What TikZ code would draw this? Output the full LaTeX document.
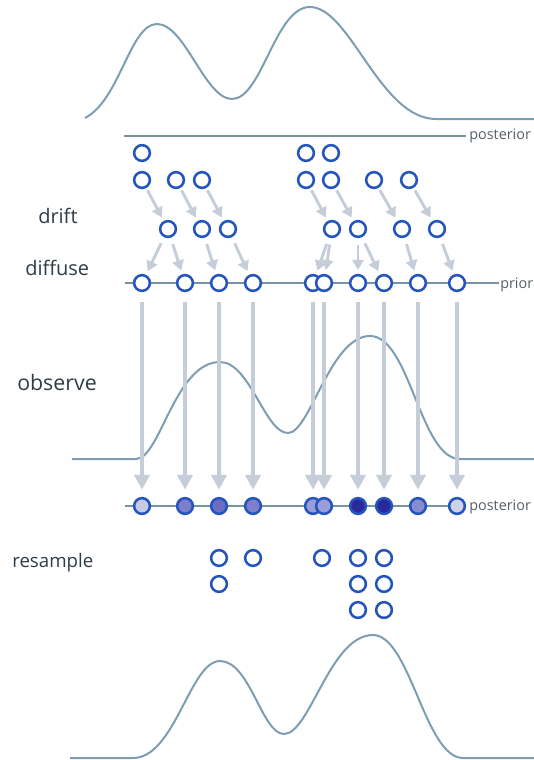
\documentclass[tikz,border=0pt]{standalone}
\usepackage{fontspec}
\setmainfont{Open Sans}
\usetikzlibrary{arrows.meta}

\definecolor{ptcl}{RGB}{36,84,190}
\definecolor{curve}{RGB}{125,158,178}
\definecolor{axis}{RGB}{118,148,166}
\definecolor{flow}{RGB}{196,205,216}
\definecolor{labeltxt}{RGB}{45,60,70}
\definecolor{axistxt}{RGB}{85,95,102}
% particle weights after the observation step
\definecolor{wa}{RGB}{200,203,230}
\definecolor{wb}{RGB}{124,127,204}
\definecolor{wc}{RGB}{106,109,192}
\definecolor{wd}{RGB}{126,128,204}
\definecolor{we}{RGB}{154,157,216}
\definecolor{wf}{RGB}{42,42,156}
\definecolor{wg}{RGB}{138,140,208}
\definecolor{wh}{RGB}{208,210,232}

\begin{document}
\begin{tikzpicture}[x=0.75pt,y=-0.75pt,
  particle/.style={circle,draw=ptcl,fill=white,line width=1.9pt,minimum size=11.8pt,inner sep=0pt},
  weighted/.style={particle,fill=#1},
  move/.style={draw=flow,line width=2.2pt,-{Triangle[width=8.5pt,length=7.5pt]},shorten <=2pt,shorten >=3pt},
  spread/.style={move,shorten <=5pt},
  weigh/.style={draw=flow,line width=2.4pt,-{Triangle[width=11.5pt,length=11pt]},shorten <=7.5pt,shorten >=5.5pt},
  density/.style={draw=curve,line width=1.5pt},
  axisline/.style={draw=axis,line width=1.4pt},
  steplabel/.style={anchor=base west,inner sep=0pt,text=labeltxt,font=\fontsize{#1}{18}\selectfont},
  steplabel/.default=15,
  axislabel/.style={anchor=base west,inner sep=0pt,text=axistxt,font=\fontsize{10.8}{13}\selectfont}]

\useasboundingbox (0,0) rectangle (534,760);

% ---- densities ----
% posterior at the previous step
\draw[density] (85,118) .. controls (120,100) and (130,24) .. (157,24)
  .. controls (185,24) and (205,99) .. (232,99)
  .. controls (262,99) and (275,7) .. (310,7)
  .. controls (350,7) and (380,119) .. (436,119) -- (534,119);
% observation likelihood
\draw[density] (72,459) -- (136,459) .. controls (160,459) and (175,362) .. (220,362)
  .. controls (250,362) and (265,433) .. (288,433)
  .. controls (310,433) and (330,336) .. (370,336)
  .. controls (410,336) and (420,459) .. (460,459) -- (534,459);
% new posterior
\draw[density] (70,758) -- (133,758) .. controls (175,758) and (190,661) .. (220,661)
  .. controls (250,661) and (262,734) .. (284,734)
  .. controls (310,734) and (330,635) .. (373,635)
  .. controls (410,635) and (425,758) .. (463,758) -- (534,758);

% ---- axes ----
\coordinate (topL) at (124,136);
\coordinate (topR) at (466,136);
\coordinate (priL) at (125,283);
\coordinate (priR) at (499,283);
\coordinate (posL) at (125,506);
\coordinate (posR) at (458,506);
\draw[axisline] (topL) -- (topR);
\draw[axisline] (priL) -- (priR);
\draw[axisline] (posL) -- (posR);
\node[axislabel] (lblTop) at (469,139) {posterior};
\node[axislabel] (lblPrior) at (500,288) {prior};
\node[axislabel] (lblPost) at (469,510) {posterior};

% ---- step labels ----
\node[steplabel] (lblDrift) at (38,223) {drift};
\node[steplabel] (lblDiffuse) at (25,275) {diffuse};
\node[steplabel=16] (lblObserve) at (17,390) {observe};
\node[steplabel=14] (lblResample) at (12,567) {resample};

% ---- particles from the previous posterior ----
\node[particle] (a1) at (142,153) {};
\node[particle] (a2) at (306,153) {};
\node[particle] (a3) at (331,153) {};
\node[particle] (b1) at (142,180) {};
\node[particle] (b2) at (176,180) {};
\node[particle] (b3) at (202,180) {};
\node[particle] (b4) at (306,180) {};
\node[particle] (b5) at (331,180) {};
\node[particle] (b6) at (374,180) {};
\node[particle] (b7) at (409,180) {};

% ---- after drift ----
\node[particle] (c1) at (168,229) {};
\node[particle] (c2) at (202,229) {};
\node[particle] (c3) at (228,229) {};
\node[particle] (c4) at (332,229) {};
\node[particle] (c5) at (358,229) {};
\node[particle] (c6) at (402,229) {};
\node[particle] (c7) at (437,229) {};

% ---- after diffusion (prior) ----
\node[particle] (d1) at (142,283) {};
\node[particle] (d2) at (185,283) {};
\node[particle] (d3) at (219,283) {};
\node[particle] (d4) at (253,283) {};
\node[particle] (d5) at (313,283) {};
\node[particle] (d6) at (324,283) {};
\node[particle] (d7) at (358,283) {};
\node[particle] (d8) at (384,283) {};
\node[particle] (d9) at (418,283) {};
\node[particle] (d10) at (457,283) {};

% ---- weighted particles (posterior) ----
\node[weighted=wa] (e1) at (142,506) {};
\node[weighted=wb] (e2) at (185,506) {};
\node[weighted=wc] (e3) at (219,506) {};
\node[weighted=wd] (e4) at (253,506) {};
\node[weighted=we] (e5) at (313,506) {};
\node[weighted=we] (e6) at (324,506) {};
\node[weighted=wf] (e7) at (358,506) {};
\node[weighted=wf] (e8) at (384,506) {};
\node[weighted=wg] (e9) at (418,506) {};
\node[weighted=wh] (e10) at (457,506) {};

% ---- resampled particles ----
\node[particle] (r1) at (219,558) {};
\node[particle] (r2) at (253,558) {};
\node[particle] (r3) at (322,558) {};
\node[particle] (r4) at (358,558) {};
\node[particle] (r5) at (384,558) {};
\node[particle] (r6) at (219,584) {};
\node[particle] (r7) at (358,584) {};
\node[particle] (r8) at (384,584) {};
\node[particle] (r9) at (358,610) {};
\node[particle] (r10) at (384,610) {};

% ---- drift ----
\draw[move] (b1) -- (c1);
\draw[move] (b2) -- (c2);
\draw[move] (b3) -- (c3);
\draw[move] (b4) -- (c4);
\draw[move] (b5) -- (c5);
\draw[move] (b6) -- (c6);
\draw[move] (b7) -- (c7);

% ---- diffuse ----
\draw[spread] (c1) -- (d1);
\draw[spread] (c1) -- (d2);
\draw[spread] (c2) -- (d3);
\draw[spread] (c3) -- (d4);
\draw[spread] (c4) -- (d5);
\draw[spread] (c4) -- (d6);
\draw[spread] (c5) -- (d7);
\draw[spread] (c5) -- (d8);
\draw[spread] (c6) -- (d9);
\draw[spread] (c7) -- (d10);

% ---- observe ----
\foreach \i in {1,...,10} {
  \draw[weigh] (d\i) -- (e\i);
}
\end{tikzpicture}
\end{document}
